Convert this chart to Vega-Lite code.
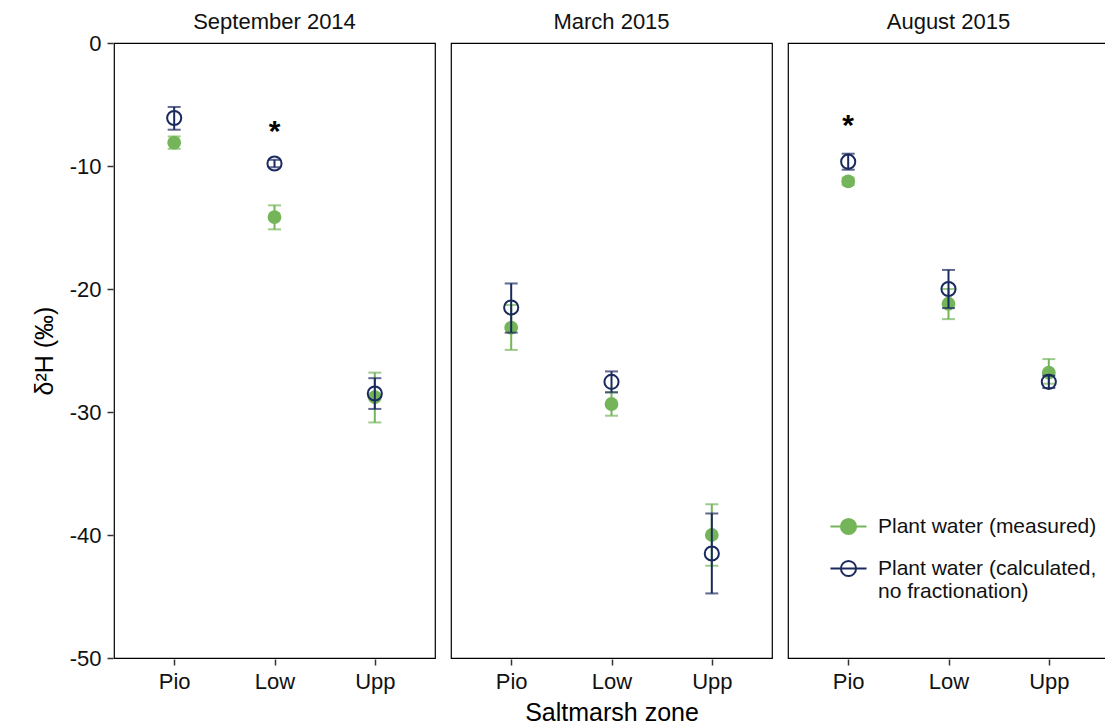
{
  "$schema": "https://vega.github.io/schema/vega-lite/v6.json",
  "padding": {"left": 32, "top": 11, "right": 0, "bottom": 0},
  "background": "white",
  "data": {"values": [
    {"month": "September 2014", "zone": "Pio", "series": "meas", "value": -8.1, "lo": -8.6, "hi": -7.6, "star": ""},
    {"month": "September 2014", "zone": "Pio", "series": "calc", "value": -6.1, "lo": -7.05, "hi": -5.2, "star": ""},
    {"month": "September 2014", "zone": "Low", "series": "meas", "value": -14.15, "lo": -15.15, "hi": -13.2, "star": ""},
    {"month": "September 2014", "zone": "Low", "series": "calc", "value": -9.8, "lo": -10.1, "hi": -9.5, "star": "*"},
    {"month": "September 2014", "zone": "Upp", "series": "meas", "value": -28.8, "lo": -30.85, "hi": -26.8, "star": ""},
    {"month": "September 2014", "zone": "Upp", "series": "calc", "value": -28.5, "lo": -29.75, "hi": -27.25, "star": ""},
    {"month": "March 2015", "zone": "Pio", "series": "meas", "value": -23.15, "lo": -24.95, "hi": -21.3, "star": ""},
    {"month": "March 2015", "zone": "Pio", "series": "calc", "value": -21.5, "lo": -23.55, "hi": -19.55, "star": ""},
    {"month": "March 2015", "zone": "Low", "series": "meas", "value": -29.35, "lo": -30.3, "hi": -28.4, "star": ""},
    {"month": "March 2015", "zone": "Low", "series": "calc", "value": -27.55, "lo": -28.4, "hi": -26.7, "star": ""},
    {"month": "March 2015", "zone": "Upp", "series": "meas", "value": -40.0, "lo": -42.5, "hi": -37.5, "star": ""},
    {"month": "March 2015", "zone": "Upp", "series": "calc", "value": -41.5, "lo": -44.75, "hi": -38.25, "star": ""},
    {"month": "August 2015", "zone": "Pio", "series": "meas", "value": -11.25, "lo": -11.55, "hi": -10.95, "star": ""},
    {"month": "August 2015", "zone": "Pio", "series": "calc", "value": -9.65, "lo": -10.3, "hi": -9.0, "star": "*"},
    {"month": "August 2015", "zone": "Low", "series": "meas", "value": -21.2, "lo": -22.45, "hi": -20.0, "star": ""},
    {"month": "August 2015", "zone": "Low", "series": "calc", "value": -20.0, "lo": -21.55, "hi": -18.45, "star": ""},
    {"month": "August 2015", "zone": "Upp", "series": "meas", "value": -26.8, "lo": -27.7, "hi": -25.7, "star": ""},
    {"month": "August 2015", "zone": "Upp", "series": "calc", "value": -27.55, "lo": -28.05, "hi": -27.05, "star": ""}
  ]},
  "facet": {
    "column": {
      "field": "month",
      "type": "nominal",
      "sort": ["September 2014", "March 2015", "August 2015"],
      "title": "Saltmarsh zone",
      "header": {
        "labelOrient": "top",
        "titleOrient": "bottom",
        "labelFontSize": 22,
        "labelColor": "#111",
        "labelPadding": 8,
        "titleFontSize": 25,
        "titleFontWeight": "normal",
        "titleColor": "#000",
        "titlePadding": -1
      }
    }
  },
  "spacing": 14,
  "spec": {
    "width": 321,
    "height": 615,
    "encoding": {
      "x": {
        "field": "zone", "type": "nominal",
        "scale": {"type": "point", "domain": ["Pio", "Low", "Upp"], "padding": 0.6},
        "axis": {"title": null, "labelAngle": 0}
      }
    },
    "layer": [
      {
        "transform": [{"filter": "datum.series == 'meas'"}],
        "mark": {"type": "errorbar", "ticks": {"size": 13}, "thickness": 2, "color": "#74B55A"},
        "encoding": {
          "y": {
            "field": "lo", "type": "quantitative", "title": "δ²H (‰)",
            "scale": {"domain": [-50, 0], "nice": false, "zero": false},
            "axis": {"title": "δ²H (‰)", "values": [-50, -40, -30, -20, -10, 0], "labelExpr": "toString(datum.value)", "titleFontSize": 25, "titleFontWeight": "normal", "titleColor": "#000", "titlePadding": 12}
          },
          "y2": {"field": "hi"}
        }
      },
      {
        "transform": [{"filter": "datum.series == 'meas'"}],
        "mark": {"type": "point", "size": 190, "filled": true, "strokeWidth": 0, "opacity": 1, "color": "#74B55A"},
        "encoding": {
          "y": {"field": "value", "type": "quantitative", "title": "δ²H (‰)"}
        }
      },
      {
        "transform": [{"filter": "datum.series == 'calc'"}],
        "mark": {"type": "errorbar", "ticks": {"size": 13}, "thickness": 2, "color": "#1B2A5E"},
        "encoding": {
          "y": {"field": "lo", "type": "quantitative", "title": "δ²H (‰)"},
          "y2": {"field": "hi"}
        }
      },
      {
        "transform": [{"filter": "datum.series == 'calc'"}],
        "mark": {"type": "point", "size": 200, "strokeWidth": 2, "opacity": 1, "filled": false},
        "encoding": {
          "y": {"field": "value", "type": "quantitative", "title": "δ²H (‰)"},
          "color": {
            "field": "series", "type": "nominal",
            "scale": {"domain": ["meas", "calc"], "range": ["#74B55A", "#1B2A5E"]},
            "legend": {
              "title": null, "orient": "none", "legendX": 715, "legendY": 464,
              "symbolType": "M-1,0H1M0.42,0A0.42,0.42 0 1 1 -0.42,0A0.42,0.42 0 1 1 0.42,0Z",
              "symbolSize": 1300, "symbolStrokeWidth": 2, "symbolOpacity": 1,
              "labelFontSize": 21, "labelColor": "#111", "labelOffset": 10, "rowPadding": 10, "labelLimit": 400,
              "labelExpr": "datum.value == 'meas' ? 'Plant water (measured)' : ['Plant water (calculated,', 'no fractionation)']"
            }
          },
          "fill": {
            "field": "series", "type": "nominal",
            "scale": {"domain": ["meas", "calc"], "range": ["#74B55A", "transparent"]},
            "legend": {
              "title": null, "orient": "none", "legendX": 715, "legendY": 464,
              "symbolType": "M-1,0H1M0.42,0A0.42,0.42 0 1 1 -0.42,0A0.42,0.42 0 1 1 0.42,0Z",
              "symbolSize": 1300, "symbolStrokeWidth": 2, "symbolOpacity": 1,
              "labelFontSize": 21, "labelColor": "#111", "labelOffset": 10, "rowPadding": 10, "labelLimit": 400,
              "labelExpr": "datum.value == 'meas' ? 'Plant water (measured)' : ['Plant water (calculated,', 'no fractionation)']"
            }
          }
        }
      },
      {
        "transform": [{"filter": "datum.star == '*'"}],
        "mark": {"type": "text", "fontSize": 30, "fontWeight": "bold", "dy": -19, "baseline": "alphabetic", "color": "#000"},
        "encoding": {
          "y": {"field": "hi", "type": "quantitative", "title": "δ²H (‰)"},
          "text": {"field": "star"}
        }
      }
    ]
  },
  "config": {
    "font": "Liberation Sans",
    "view": {"stroke": "#000", "strokeWidth": 1.2},
    "axis": {"grid": false, "domain": false, "tickColor": "#333", "tickSize": 6, "tickWidth": 1.5, "labelFontSize": 22, "labelColor": "#111", "labelPadding": 6},
    "legend": {"padding": 0}
  }
}
